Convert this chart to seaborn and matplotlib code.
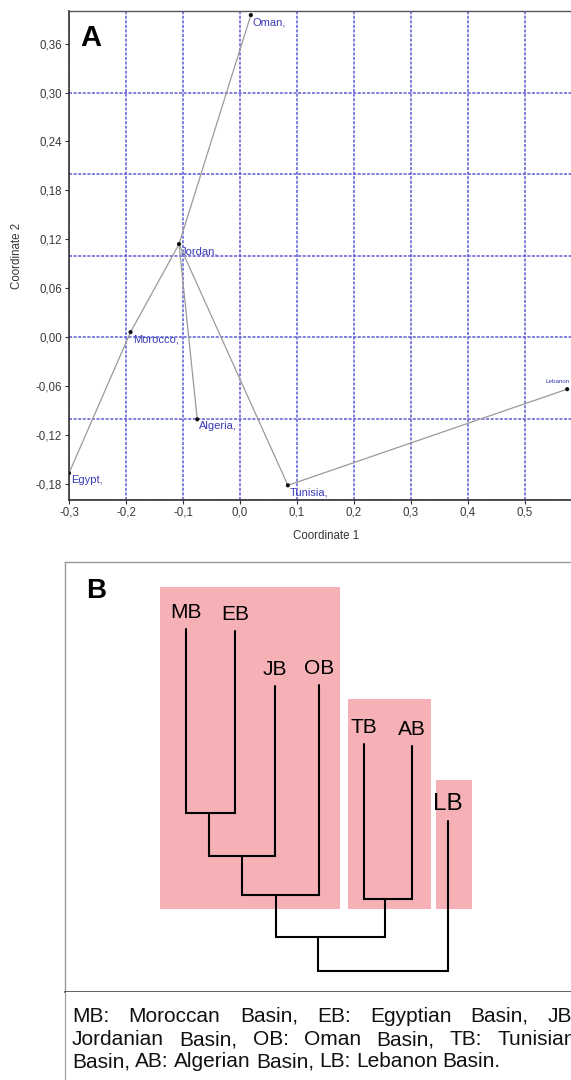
import matplotlib
matplotlib.use('Agg')
import matplotlib.pyplot as plt
import matplotlib.ticker as ticker
import matplotlib.patches as mpatches
from matplotlib.transforms import IdentityTransform
import pandas as pd
import seaborn as sns

W, H = 571, 1080

# --- panel A: PCoA coordinates ---
countries = ['Oman,', 'Jordan,', 'Morocco,', 'Algeria,', 'Egypt,', 'Tunisia,', 'Lebanon']
coord1 = [0.019, -0.107, -0.192, -0.075, -0.300, 0.084, 0.574]
coord2 = [0.395, 0.114, 0.006, -0.101, -0.167, -0.182, -0.064]
mst_edges = [(0, 1), (1, 2), (2, 4), (1, 3), (1, 5), (5, 6)]
x_ticks = [-0.3, -0.2, -0.1, 0.0, 0.1, 0.2, 0.3, 0.4, 0.5]
y_ticks = [-0.18, -0.12, -0.06, 0.0, 0.06, 0.12, 0.18, 0.24, 0.30, 0.36]

# --- panel B: dendrogram ---
leaf_names = ['MB', 'EB', 'JB', 'OB', 'TB', 'AB', 'LB']
leaf_pos = [0.0, 1.11, 2.02, 3.03, 4.04, 5.14, 5.96]
leaf_tip = [1.72, 1.77, 3.15, 3.13, 4.60, 4.65, 6.53]
# (left child, right child, height, node position)
merges = [
    ('MB', 'EB', 6.32, 0.52),
    ('n0', 'JB', 7.39, 1.27),
    ('n1', 'OB', 8.38, 2.05),
    ('TB', 'AB', 8.48, 4.52),
    ('n2', 'n3', 9.43, 3.01),
    ('n4', 'LB', 10.27, None),
]
cluster_left = [-0.58, 3.68, 5.68]
cluster_right = [3.50, 5.57, 6.49]
cluster_top = [0.67, 3.48, 5.50]
cluster_bottom = 8.72

caption_lines = [
    "MB: Moroccan Basin, EB: Egyptian Basin, JB:",
    "Jordanian Basin, OB: Oman Basin, TB: Tunisian",
    "Basin, AB: Algerian Basin, LB: Lebanon Basin.",
]

sns.set_style('white')
plt.rcParams['font.family'] = ['Liberation Sans', 'DejaVu Sans']

fig = plt.figure(figsize=(W / 100, H / 100), dpi=100)


def px_axes(left, top, right, bottom):
    return fig.add_axes([left / W, 1 - bottom / H, (right - left) / W, (bottom - top) / H])


# ---------------- panel A ----------------
ax = px_axes(69, 11, 582, 500)
df = pd.DataFrame({'c1': coord1, 'c2': coord2, 'name': countries})
for a, b in mst_edges:
    ax.plot([coord1[a], coord1[b]], [coord2[a], coord2[b]], color='#9a9a9a', lw=0.9, zorder=3)
sns.scatterplot(data=df, x='c1', y='c2', color='#111111', s=9, edgecolor='none', ax=ax, zorder=4)
for i, row in df.iterrows():
    if row['name'] == 'Lebanon':
        ax.annotate(row['name'], (row['c1'], row['c2']), xytext=(1.5, 5.5), textcoords='offset points',
                    ha='right', va='center', fontsize=4.5, color='#3a3ab4')
    else:
        ax.annotate(row['name'], (row['c1'], row['c2']), xytext=(1.5, -5), textcoords='offset points',
                    ha='left', va='center', fontsize=8, color='#3a3ab4')

ax.set_xlim(-0.3, 0.6)
ax.set_ylim(-0.2, 0.4)
ax.xaxis.set_major_locator(ticker.FixedLocator(x_ticks))
ax.yaxis.set_major_locator(ticker.FixedLocator(y_ticks))
ax.yaxis.set_minor_locator(ticker.MultipleLocator(0.1))
ax.yaxis.remove_overlapping_locs = False
ax.xaxis.set_major_formatter(ticker.FuncFormatter(lambda x, _: f"{round(x, 1) + 0:.1f}".replace('.', ',')))
ax.yaxis.set_major_formatter(ticker.FuncFormatter(lambda x, _: f"{round(x, 2) + 0:.2f}".replace('.', ',')))
ax.tick_params(axis='both', which='major', direction='out', length=3, width=0.8, color='#333333',
               labelsize=8.3, labelcolor='#3a3a3a', pad=2, left=True, bottom=True)
ax.tick_params(axis='y', which='minor', length=0)
ax.grid(False)
ax.xaxis.grid(True, which='major', color='#5c5cd4', lw=1.1, ls=(0, (2, 1)))
ax.yaxis.grid(True, which='minor', color='#5c5cd4', lw=1.1, ls=(0, (2, 1)))
ax.set_axisbelow(True)
for s in ['left', 'bottom']:
    ax.spines[s].set_color('#333333')
    ax.spines[s].set_linewidth(1.2)
ax.spines['top'].set_color('#555555')
ax.spines['top'].set_linewidth(1.0)
ax.spines['right'].set_visible(False)
ax.set_xlabel('Coordinate 1', fontsize=8.3, color='#333333')
ax.set_ylabel('Coordinate 2', fontsize=8.3, color='#333333')
ax.xaxis.set_label_coords((326 - 69) / 513, -30 / 489)
ax.yaxis.set_label_coords(-46 / 513, 0.5)
fig.text(80 / W, 1 - 38 / H, 'A', fontsize=21, fontweight='bold', va='center', ha='left', color='black')

# ---------------- panel B ----------------
axb = px_axes(65, 562, 601, 992)
axb.set_xlim(-2.75, 9.43)
axb.set_ylim(10.8, 0.05)
axb.set_xticks([])
axb.set_yticks([])
for l, r, t in zip(cluster_left, cluster_right, cluster_top):
    axb.add_patch(mpatches.Rectangle((l, t), r - l, cluster_bottom - t, color='#f5b1b6', lw=0, zorder=1))

nodes = {n: (p, h) for n, p, h in zip(leaf_names, leaf_pos, leaf_tip)}
for i, (a, b, h, pos) in enumerate(merges):
    xa, ha_ = nodes[a]
    xb, hb = nodes[b]
    axb.plot([xa, xa, xb, xb], [ha_, h, h, hb], color='black', lw=1.5, solid_joinstyle='miter', zorder=3)
    nodes[f'n{i}'] = (pos if pos is not None else (xa + xb) / 2, h)

for n, p, h in zip(leaf_names, leaf_pos, leaf_tip):
    axb.text(p, h - 0.27, n, ha='center', va='baseline', fontsize=17.5 if n == 'LB' else 15,
             color='black', zorder=4)

for s in ['left', 'top']:
    axb.spines[s].set_color('#999999')
    axb.spines[s].set_linewidth(1.0)
axb.spines['bottom'].set_color('#555555')
axb.spines['bottom'].set_linewidth(1.3)
axb.spines['right'].set_visible(False)
fig.text(86 / W, 1 - 591 / H, 'B', fontsize=20, fontweight='bold', va='center', ha='left', color='black')

# caption box
axc = px_axes(65, 992, 601, 1095)
axc.set_xticks([])
axc.set_yticks([])
axc.spines['left'].set_color('#999999')
for s in ['top', 'right', 'bottom']:
    axc.spines[s].set_visible(False)

renderer = fig.canvas.get_renderer()
CAP_SIZE = 15


def place_words(line, y, x0, x1=None):
    words = line.split(' ')
    texts = [fig.text(0, 0, w, fontsize=CAP_SIZE, color='#111111', va='baseline', ha='left',
                      transform=IdentityTransform()) for w in words]
    widths = [t.get_window_extent(renderer).width for t in texts]
    if x1 is not None:
        gap = (x1 - x0 - sum(widths)) / (len(words) - 1)
    else:
        gap = 0.25 * CAP_SIZE * 100 / 72
    x = x0
    for t, w in zip(texts, widths):
        t.set_position((round(x), H - y))
        x += w + gap


place_words(caption_lines[0], 1022, 72, 578)
place_words(caption_lines[1], 1045, 72, 576)
place_words(caption_lines[2], 1067, 72)

fig.savefig('out.png', dpi=100)
